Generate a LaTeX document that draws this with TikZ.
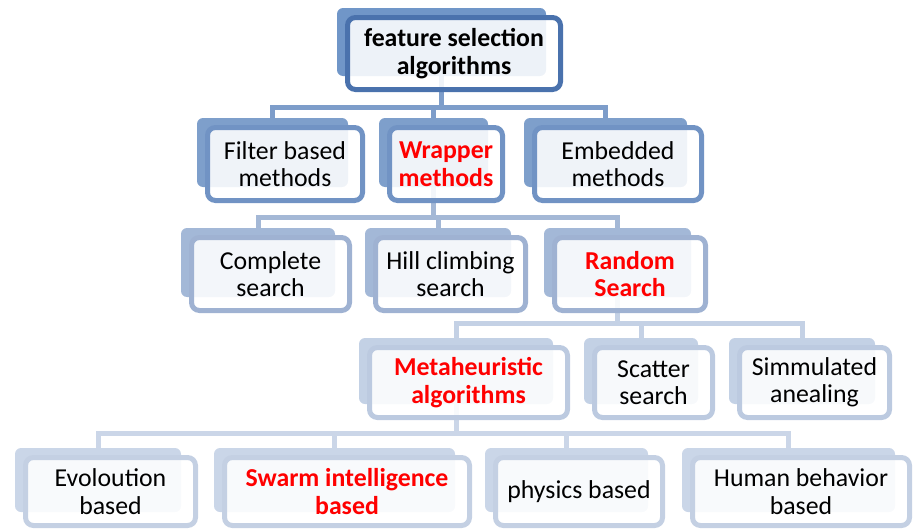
\documentclass[tikz,border=0pt]{standalone}
\usepackage{fontspec}
\setmainfont{Carlito}
\usetikzlibrary{backgrounds}

% card colours, one pair per tier
\definecolor{back0}{HTML}{7096C8}
\definecolor{edge0}{HTML}{4A72AD}
\definecolor{back1}{HTML}{7E9FCB}
\definecolor{edge1}{HTML}{7193C4}
\definecolor{back2}{HTML}{A3B8D7}
\definecolor{edge2}{HTML}{9FB2D2}
\definecolor{back3}{HTML}{C3D1E5}
\definecolor{edge3}{HTML}{BCCAE0}
\definecolor{back4}{HTML}{CAD6E8}
\definecolor{edge4}{HTML}{C4D0E3}
\definecolor{link1}{HTML}{7D9DCA}
\definecolor{link2}{HTML}{A4B8D6}
\definecolor{link3}{HTML}{C4D1E5}
\definecolor{link4}{HTML}{CBD6E8}

\newcommand{\tierfont}{\fontsize{25.8}{27.5}\selectfont}

\tikzset{
  tierback/.style={rectangle, rounded corners=6pt, fill=#1, inner sep=0pt},
  tierfront/.style={rectangle, draw=#1, line width=5pt, rounded corners=8pt,
    fill=white, fill opacity=.88, text opacity=1, align=center, inner sep=0pt},
  hot/.style={text=red, font=\tierfont\bfseries},
  link/.style={draw=#1, line width=5pt}
}

% one card: shaded plate behind, framed label in front
% #1 name, #2 tier, #3 x, #4 y, #5 width, #6 height, #7 options, #8 text
\newcommand{\tierbox}[8]{%
  \node[tierback=back#2, minimum width=#5-9, minimum height=#6-9]
    (#1-back) at (#3-12.5,#4-11.5) {};
  \node[tierfront=edge#2, minimum width=#5-5, minimum height=#6-5, #7]
    (#1) at (#3,#4) {#8};
}

\begin{document}
\begin{tikzpicture}[x=1pt, y=-1pt, font=\tierfont]
  \useasboundingbox (0,0) rectangle (914,530);

  \tierbox{root}{0}{454}{53.5}{218}{77}{font=\tierfont\bfseries}{feature selection\\algorithms}

  \tierbox{filter}{1}{285}{164}{160}{78}{}{Filter based\\methods}
  \tierbox{wrapper}{1}{446}{164}{118}{78}{hot}{Wrapper\\methods}
  \tierbox{embedded}{1}{618}{164}{172}{78}{}{Embedded\\methods}

  \tierbox{complete}{2}{270.5}{274}{163}{78}{}{Complete\\search}
  \tierbox{hill}{2}{450.5}{274}{155}{78}{}{Hill climbing\\search}
  \tierbox{random}{2}{630}{274}{156}{78}{hot}{Random\\Search}

  \tierbox{meta}{3}{468.5}{382.5}{203}{75}{hot}{Metaheuristic\\algorithms}
  \tierbox{scatter}{3}{653.5}{382.5}{123}{75}{}{Scatter\\search}
  \tierbox{simm}{3}{814.5}{382.5}{155}{75}{}{Simmulated\\anealing}

  \tierbox{evol}{4}{110.5}{491.5}{175}{73}{}{Evoloution\\based}
  \tierbox{swarm}{4}{347}{491.5}{250}{73}{hot}{Swarm intelligence\\based}
  \tierbox{physics}{4}{579}{491.5}{172}{73}{}{physics based}
  \tierbox{human}{4}{801}{491.5}{222}{73}{}{Human behavior\\based}

  % tree lines run under the cards
  \begin{scope}[on background layer]
    \foreach \kid in {filter,wrapper,embedded}
      \draw[link=link1] (root-back.south) -- ++(0,31) -| (\kid-back.north);
    \foreach \kid in {complete,hill,random}
      \draw[link=link2] (wrapper-back.south) -- ++(0,30) -| (\kid-back.north);
    \foreach \kid in {meta,scatter,simm}
      \draw[link=link3] (random-back.south) -- ++(0,26) -| (\kid-back.north);
    \foreach \kid in {evol,swarm,physics,human}
      \draw[link=link4] (meta-back.south) -- ++(0,29) -| (\kid-back.north);
  \end{scope}
\end{tikzpicture}
\end{document}
